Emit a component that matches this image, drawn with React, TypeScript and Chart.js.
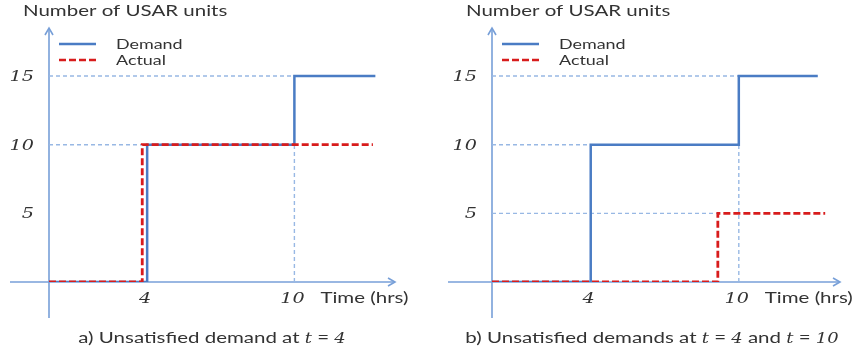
import React, { useEffect, useRef } from "react";
import { Chart, registerables } from "chart.js";

Chart.register(...registerables);

// ---------- data ----------
const Y_TITLE = "Number of USAR units";
const X_TITLE = "Time (hrs)";
const SERIES_NAMES = ["Demand", "Actual"];
const Y_TICKS = [5, 10, 15];
const X_TICKS = [4, 10];

// panel a
const A_DEMAND_X = [0, 4, 10, 13.3];
const A_DEMAND_Y = [0, 10, 15, 15];
const A_ACTUAL_X = [0, 3.8, 13.2];
const A_ACTUAL_Y = [0, 10, 10];
// guide lines: [x1, y1, x2, y2]
const A_GUIDES = [
  [0, 15, 10, 15],
  [0, 10, 3.8, 10],
  [10, 0, 10, 10],
];
const A_CAPTION = [
  ["a) Unsatisfied demand at ", "n"],
  ["t", "i"],
  [" = ", "n"],
  ["4", "i"],
];

// panel b
const B_DEMAND_X = [0, 4, 10, 13.2];
const B_DEMAND_Y = [0, 10, 15, 15];
const B_ACTUAL_X = [0, 9.15, 13.5];
const B_ACTUAL_Y = [0, 5, 5];
const B_GUIDES = [
  [0, 15, 10, 15],
  [0, 10, 4, 10],
  [0, 5, 9.15, 5],
  [10, 0, 10, 10],
];
const B_CAPTION = [
  ["b) Unsatisfied demands at ", "n"],
  ["t", "i"],
  [" = ", "n"],
  ["4", "i"],
  [" and ", "n"],
  ["t", "i"],
  [" = ", "n"],
  ["10", "i"],
];

// ---------- styles ----------
const DEMAND_COLOR = "#4a7cc4";
const ACTUAL_COLOR = "#d81c1c";
const GUIDE_COLOR = "#98b8e4";
const AXIS_COLOR = "#779fd8";
const TEXT_COLOR = "#333333";
const SANS = "Lato, 'Open Sans', sans-serif";
const SERIF = "'DejaVu Serif', serif";
const SX = 1.28;

type Run = [string, string];

function drawRuns(
  ctx: CanvasRenderingContext2D,
  runs: Run[],
  x: number,
  y: number,
  align: "left" | "right" | "center",
  size: number,
  italicSize: number
) {
  ctx.save();
  ctx.fillStyle = TEXT_COLOR;
  ctx.textBaseline = "alphabetic";
  ctx.textAlign = "left";
  const fontOf = (k: string) =>
    k === "i" ? `italic ${italicSize}px ${SERIF}` : `${size}px ${SANS}`;
  let w = 0;
  for (const [t, k] of runs) {
    ctx.font = fontOf(k);
    w += ctx.measureText(t).width;
  }
  const start = align === "left" ? x : align === "right" ? x - w * SX : x - (w * SX) / 2;
  ctx.translate(start, y);
  ctx.scale(SX, 1);
  let cx = 0;
  for (const [t, k] of runs) {
    ctx.font = fontOf(k);
    ctx.fillText(t, cx, 0);
    cx += ctx.measureText(t).width;
  }
  ctx.restore();
}

interface PanelCfg {
  demandX: number[];
  demandY: number[];
  actualX: number[];
  actualY: number[];
  guides: number[][];
  caption: Run[];
  padLeft: number;
  padRight: number;
  extLeft: number;
  captionX: number;
}

const PANEL_A: PanelCfg = {
  demandX: A_DEMAND_X,
  demandY: A_DEMAND_Y,
  actualX: A_ACTUAL_X,
  actualY: A_ACTUAL_Y,
  guides: A_GUIDES,
  caption: A_CAPTION as Run[],
  padLeft: 49,
  padRight: 35,
  extLeft: 39,
  captionX: 212,
};
const PANEL_B: PanelCfg = {
  demandX: B_DEMAND_X,
  demandY: B_DEMAND_Y,
  actualX: B_ACTUAL_X,
  actualY: B_ACTUAL_Y,
  guides: B_GUIDES,
  caption: B_CAPTION as Run[],
  padLeft: 62,
  padRight: 20,
  extLeft: 44,
  captionX: 222,
};

const X_MAX = 14.1;
const Y_MAX = 18.5;

function makePlugin(p: PanelCfg) {
  return {
    id: "usarDecor",
    beforeDatasetsDraw(chart: any) {
      const { ctx, chartArea, scales } = chart;
      const x0 = scales.x.getPixelForValue(0);
      const y0 = scales.y.getPixelForValue(0);
      ctx.save();
      ctx.strokeStyle = AXIS_COLOR;
      ctx.lineWidth = 1.6;
      ctx.beginPath();
      ctx.moveTo(x0 - p.extLeft, y0);
      ctx.lineTo(chartArea.right, y0);
      ctx.stroke();
      ctx.beginPath();
      ctx.moveTo(chartArea.right - 7, y0 - 4);
      ctx.lineTo(chartArea.right, y0);
      ctx.lineTo(chartArea.right - 7, y0 + 4);
      ctx.stroke();
      ctx.beginPath();
      ctx.moveTo(x0, y0 + 36);
      ctx.lineTo(x0, chartArea.top);
      ctx.stroke();
      ctx.beginPath();
      ctx.moveTo(x0 - 4, chartArea.top + 7);
      ctx.lineTo(x0, chartArea.top);
      ctx.lineTo(x0 + 4, chartArea.top + 7);
      ctx.stroke();
      ctx.restore();
    },
    afterDraw(chart: any) {
      const { ctx, scales } = chart;
      const x0 = scales.x.getPixelForValue(0);
      const y0 = scales.y.getPixelForValue(0);
      // title
      drawRuns(ctx, [[Y_TITLE, "n"]], x0 - 26, 16, "left", 16, 15);
      // y tick labels
      for (const v of Y_TICKS) {
        drawRuns(ctx, [[String(v), "i"]], x0 - 15, scales.y.getPixelForValue(v) + 5, "right", 16, 15);
      }
      // x tick labels
      for (const v of X_TICKS) {
        drawRuns(ctx, [[String(v), "i"]], scales.x.getPixelForValue(v) - 2, y0 + 21, "center", 16, 15);
      }
      drawRuns(ctx, [[X_TITLE, "n"]], scales.x.getPixelForValue(10) + 26, y0 + 21, "left", 16, 15);
      // caption
      drawRuns(ctx, p.caption, p.captionX, 343, "center", 16, 14);
      // legend
      ctx.save();
      ctx.lineWidth = 2.5;
      ctx.strokeStyle = DEMAND_COLOR;
      ctx.beginPath();
      ctx.moveTo(x0 + 10, 44);
      ctx.lineTo(x0 + 47, 44);
      ctx.stroke();
      ctx.strokeStyle = ACTUAL_COLOR;
      ctx.setLineDash([7, 3]);
      ctx.beginPath();
      ctx.moveTo(x0 + 10, 60);
      ctx.lineTo(x0 + 47, 60);
      ctx.stroke();
      ctx.restore();
      drawRuns(ctx, [[SERIES_NAMES[0], "n"]], x0 + 67, 49, "left", 14, 14);
      drawRuns(ctx, [[SERIES_NAMES[1], "n"]], x0 + 67, 65, "left", 14, 14);
    },
  };
}

function toPoints(xs: number[], ys: number[]) {
  return xs.map((x, i) => ({ x, y: ys[i] }));
}

function Panel({ cfg }: { cfg: PanelCfg }) {
  const ref = useRef<HTMLCanvasElement | null>(null);
  useEffect(() => {
    if (!ref.current) return;
    const datasets: any[] = [
      {
        label: SERIES_NAMES[1],
        data: toPoints(cfg.actualX, cfg.actualY),
        borderColor: ACTUAL_COLOR,
        borderWidth: 2.8,
        borderDash: [7, 3],
        stepped: "before",
        pointRadius: 0,
        fill: false,
        order: 0,
      },
      {
        label: SERIES_NAMES[0],
        data: toPoints(cfg.demandX, cfg.demandY),
        borderColor: DEMAND_COLOR,
        borderWidth: 2.5,
        stepped: "before",
        pointRadius: 0,
        fill: false,
        order: 1,
      },
      ...cfg.guides.map((g, i) => ({
        label: "guide" + i,
        data: [
          { x: g[0], y: g[1] },
          { x: g[2], y: g[3] },
        ],
        borderColor: GUIDE_COLOR,
        borderWidth: 1.4,
        borderDash: [4, 3],
        pointRadius: 0,
        fill: false,
        order: 2,
      })),
    ];
    const chart = new Chart(ref.current, {
      type: "line",
      data: { datasets },
      options: {
        responsive: false,
        animation: false,
        layout: { padding: { left: cfg.padLeft, right: cfg.padRight, top: 28, bottom: 76 } },
        scales: {
          x: { type: "linear", min: 0, max: X_MAX, display: false },
          y: { type: "linear", min: 0, max: Y_MAX, display: false },
        },
        plugins: { legend: { display: false }, tooltip: { enabled: false }, title: { display: false } },
      },
      plugins: [makePlugin(cfg)],
    } as any);
    return () => chart.destroy();
  }, [cfg]);
  return <canvas ref={ref} width={430} height={358} style={{ display: "block" }} />;
}

export default function App() {
  return (
    <div
      style={{
        position: "absolute",
        left: 0,
        top: 0,
        width: 860,
        height: 358,
        display: "flex",
        background: "#ffffff",
      }}
    >
      <Panel cfg={PANEL_A} />
      <Panel cfg={PANEL_B} />
    </div>
  );
}
